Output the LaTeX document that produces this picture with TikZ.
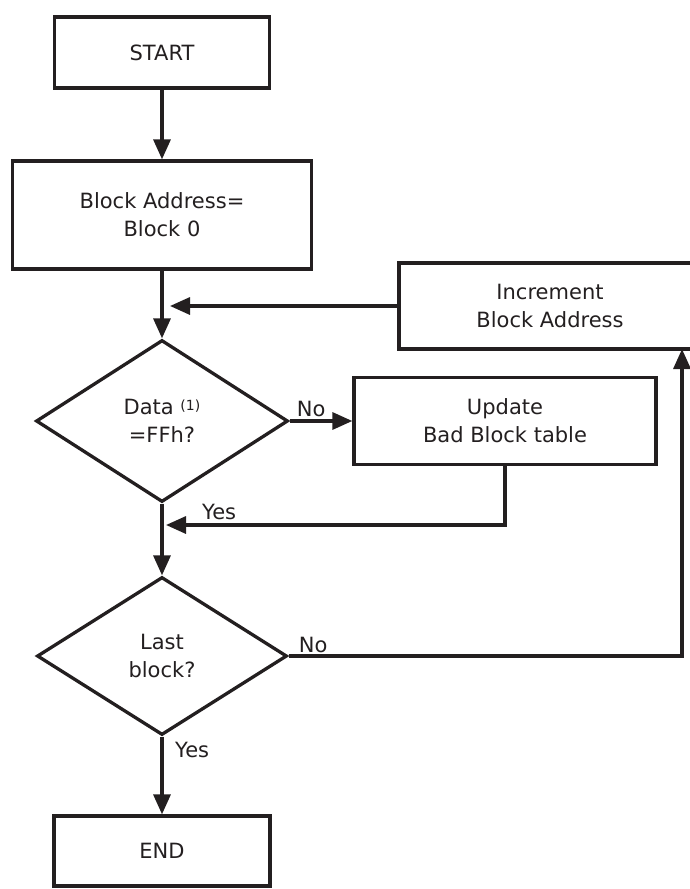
\documentclass[tikz,border=0pt]{standalone}
\usepackage{fontspec}
\setmainfont{DejaVu Sans}
\usetikzlibrary{arrows.meta,positioning,shapes.geometric}
\definecolor{ink}{HTML}{231F20}

\begin{document}
\begin{tikzpicture}[x=1pt,y=-1pt,
    every node/.style={font=\fontsize{21}{28}\selectfont, text=ink},
    procbox/.style={draw=ink, line width=3.3pt, rectangle, align=center, inner sep=0pt},
    decision/.style={draw=ink, line width=3.3pt, diamond, align=center, inner sep=0pt},
    flow/.style={draw=ink, line width=3.3pt, -{Triangle[length=20pt,width=17pt]}},
    lbl/.style={inner sep=0pt}]
  \useasboundingbox (0,0) rectangle (690,889);
  \clip (0,0) rectangle (690,889);

  % Main column
  \node[procbox, minimum width=215pt, minimum height=71pt] (start) at (162,52.5) {START};
  \node[procbox, minimum width=299pt, minimum height=108pt] (addr) at (162,215) {Block Address=\\Block 0};
  \node[decision, minimum width=252pt, minimum height=162pt] (data) at (162,421)
    {Data \raisebox{4pt}{\fontsize{14}{14}\selectfont(1)}\\=FFh?};
  \node[decision, minimum width=250pt, minimum height=158pt] (last) at (162,656) {Last\\block?};
  \node[procbox, minimum width=216pt, minimum height=70pt] (end) at (162,851) {END};

  % Side boxes
  \node[procbox, minimum width=302pt, minimum height=87pt] (upd) at (505,421) {Update\\Bad Block table};
  \node[procbox, minimum width=302pt, minimum height=86pt] (inc) at (550,306) {Increment\\Block Address};

  % Joins on the column
  \coordinate (incjoin) at (170,306);
  \coordinate (updjoin) at (166,525);
  \coordinate (incin) at (682,349);

  % Connectors
  \draw[flow] (start) -- (addr);
  \draw[flow] (addr) -- (data);
  \draw[flow] (inc) -- (incjoin);
  \draw[flow] (data) -- (upd);
  \draw[flow] (upd) |- (updjoin);
  \draw[flow] (data) -- (last);
  \draw[flow] (last) -| (incin);
  \draw[flow] (last) -- (end);

  % Branch labels
  \node[lbl, above right=4pt and 7pt of data.east] (datano) {No};
  \node[lbl, above right=5pt and 36pt of updjoin] (datayes) {Yes};
  \node[lbl, above right=3pt and 10pt of last.east] (lastno) {No};
  \node[lbl, below right=5pt and 13pt of last.south] (lastyes) {Yes};
\end{tikzpicture}
\end{document}
